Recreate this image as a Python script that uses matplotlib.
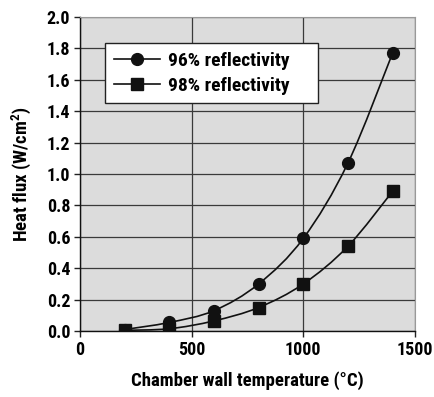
import numpy as np
import matplotlib
matplotlib.use('Agg')
import matplotlib.pyplot as plt
from matplotlib.path import Path
from matplotlib.patches import PathPatch
from matplotlib.lines import Line2D

plt.rcParams['font.family'] = ['Roboto Condensed', 'DejaVu Sans']
plt.rcParams['font.weight'] = 'bold'
plt.rcParams['axes.labelweight'] = 'bold'
plt.rcParams['mathtext.fontset'] = 'custom'
plt.rcParams['mathtext.bf'] = 'Roboto Condensed:bold'
plt.rcParams['mathtext.rm'] = 'Roboto Condensed:bold'

temps = [200, 400, 600, 800, 1000, 1200, 1400]
flux_96 = [0.01, 0.055, 0.13, 0.30, 0.59, 1.07, 1.77]
flux_98 = [0.005, 0.015, 0.065, 0.15, 0.30, 0.54, 0.89]
labels = ['96% reflectivity', '98% reflectivity']


def smooth_path(x, y):
    # Catmull-Rom style bezier segments through the points (like a smoothed line)
    x = np.asarray(x, float)
    y = np.asarray(y, float)
    verts = [(x[0], y[0])]
    codes = [Path.MOVETO]
    n = len(x)
    for i in range(n - 1):
        x0, y0 = (x[i - 1], y[i - 1]) if i > 0 else (x[i], y[i])
        x3, y3 = (x[i + 2], y[i + 2]) if i + 2 < n else (x[i + 1], y[i + 1])
        c1 = (x[i] + (x[i + 1] - x0) / 6, y[i] + (y[i + 1] - y0) / 6)
        c2 = (x[i + 1] - (x3 - x[i]) / 6, y[i + 1] - (y3 - y[i]) / 6)
        verts += [c1, c2, (x[i + 1], y[i + 1])]
        codes += [Path.CURVE4] * 3
    return Path(verts, codes)


fig = plt.figure(figsize=(4.34, 3.97), dpi=100)
ax = fig.add_axes([0.184, 0.166, 0.772, 0.791])
ax.set_facecolor('#dcdcdc')

for ys, mk, ms in [(flux_96, 'o', 8.5), (flux_98, 's', 8)]:
    ax.add_patch(PathPatch(smooth_path(temps, ys), fill=False, lw=1.2,
                           edgecolor='#111111', zorder=3))
    ax.plot(temps, ys, linestyle='none', marker=mk, ms=ms,
            color='#111111', zorder=4)

ax.set_xlim(0, 1500)
ax.set_ylim(0, 2.0)
ax.set_xticks([0, 500, 1000, 1500])
ax.set_yticks(np.arange(0, 2.01, 0.2))
ax.set_yticklabels([f'{v:.1f}' for v in np.arange(0, 2.01, 0.2)])
ax.grid(True, color='#3a3a3a', lw=0.9)
ax.set_axisbelow(True)
ax.tick_params(labelsize=13, length=4, width=1, color='#222222', pad=3)

for s in ['top', 'right']:
    ax.spines[s].set_color('#999999')
    ax.spines[s].set_linewidth(0.8)
for s in ['left', 'bottom']:
    ax.spines[s].set_color('#111111')
    ax.spines[s].set_linewidth(1.0)

ax.set_xlabel('Chamber wall temperature (°C)', fontsize=13.5, labelpad=9)
ax.set_ylabel('Heat flux (W/cm$^\\mathbf{2}$)', fontsize=13.5, labelpad=9)

handles = [Line2D([], [], color='#111111', lw=1.2, marker='o', ms=8.5),
           Line2D([], [], color='#111111', lw=1.2, marker='s', ms=8)]
leg = ax.legend(handles, labels, loc='upper left',
                bbox_to_anchor=(0.075, 0.727, 0.636, 0.19), mode='expand',
                fontsize=14, frameon=True, fancybox=False, framealpha=1,
                edgecolor='#222222', handlelength=2.4, borderpad=0.45,
                labelspacing=0.35, handletextpad=0.4, borderaxespad=0)
leg.get_frame().set_linewidth(1.0)

fig.savefig('out.png', dpi=100)
